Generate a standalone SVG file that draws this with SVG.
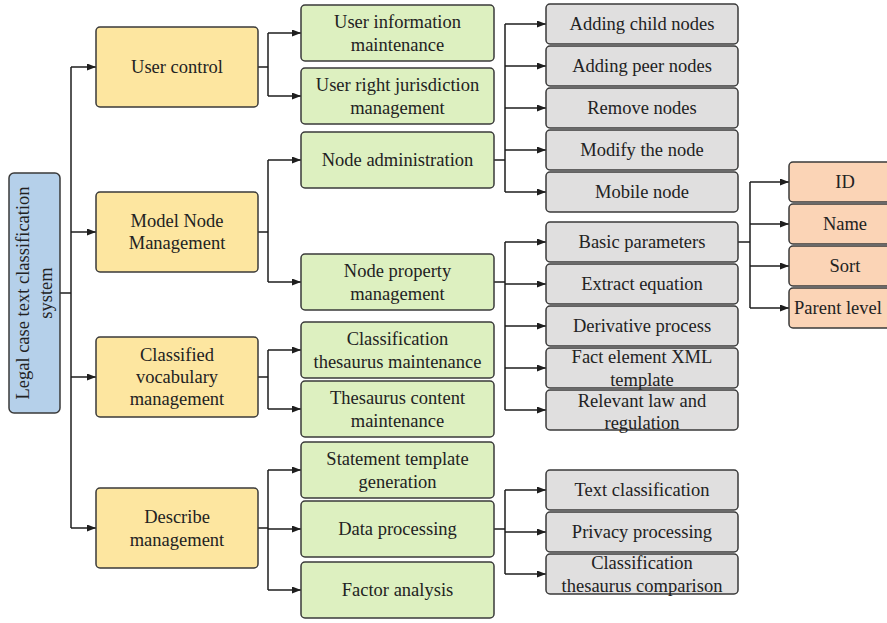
<svg xmlns="http://www.w3.org/2000/svg" width="887" height="623" viewBox="0 0 887 623">
<defs>
<marker id="arr" markerUnits="userSpaceOnUse" markerWidth="10" markerHeight="8" refX="9" refY="3.5" orient="auto">
<path d="M0,0 L9,3.5 L0,7 z" fill="#1e1e1e"/>
</marker>
<style>
.box{stroke:#3a3a3a;stroke-width:1.5}
.root{fill:#b5d0ea}
.l1{fill:#fde6a0}
.l2{fill:#ddf0c0}
.l3{fill:#e0dfdf}
.l4{fill:#fbd4b6}
text{font-family:"Liberation Serif","Times New Roman",serif;font-size:18.5px;fill:#222;text-anchor:middle;dominant-baseline:central}
.c path{fill:none;stroke:#1e1e1e;stroke-width:1.5}
.c path.a{marker-end:url(#arr)}
</style>
</defs>
<rect width="887" height="623" fill="#ffffff"/>

<g class="c" id="connectors">
<path d="M60,293 H71"/>
<path d="M71,67 V528"/>
<path class="a" d="M71,67 H96"/>
<path class="a" d="M71,232 H96"/>
<path class="a" d="M71,377 H96"/>
<path class="a" d="M71,528 H96"/>

<path d="M258,67 H268 M268,33 V96"/>
<path class="a" d="M268,33 H301"/>
<path class="a" d="M268,96 H301"/>
<path d="M258,232 H268 M268,160 V282"/>
<path class="a" d="M268,160 H301"/>
<path class="a" d="M268,282 H301"/>
<path d="M258,377 H268 M268,350 V409"/>
<path class="a" d="M268,350 H301"/>
<path class="a" d="M268,409 H301"/>
<path d="M258,528 H268 M268,470 V590"/>
<path class="a" d="M268,470 H301"/>
<path class="a" d="M268,529 H301"/>
<path class="a" d="M268,590 H301"/>

<path d="M494,160 H505 M505,24 V192"/>
<path class="a" d="M505,24 H546"/>
<path class="a" d="M505,66 H546"/>
<path class="a" d="M505,108 H546"/>
<path class="a" d="M505,150 H546"/>
<path class="a" d="M505,192 H546"/>

<path d="M494,282 H505 M505,242 V410"/>
<path class="a" d="M505,242 H546"/>
<path class="a" d="M505,284 H546"/>
<path class="a" d="M505,326 H546"/>
<path class="a" d="M505,368 H546"/>
<path class="a" d="M505,410 H546"/>

<path d="M494,529 H505 M505,490 V574"/>
<path class="a" d="M505,490 H546"/>
<path class="a" d="M505,532 H546"/>
<path class="a" d="M505,574 H546"/>

<path d="M738,242 H750 M750,182 V308"/>
<path class="a" d="M750,182 H789"/>
<path class="a" d="M750,224 H789"/>
<path class="a" d="M750,266 H789"/>
<path class="a" d="M750,308 H789"/>
</g>

<g id="root">
<rect class="box root" x="9" y="173" width="51" height="240" rx="5"/>
<g transform="translate(34.5,293) rotate(-90)">
<text x="0" y="-11.5">Legal case text classification</text>
<text x="0" y="11.5">system</text>
</g>
</g>

<g id="user-control">
<rect class="box l1" x="96" y="27" width="162" height="80" rx="4"/>
<text x="177" y="67">User control</text>
</g>
<g id="model-node-management">
<rect class="box l1" x="96" y="192" width="162" height="80" rx="4"/>
<text x="177" y="221">Model Node</text>
<text x="177" y="243">Management</text>
</g>
<g id="classified-vocabulary-management">
<rect class="box l1" x="96" y="337" width="162" height="80" rx="4"/>
<text x="177" y="355">Classified</text>
<text x="177" y="377">vocabulary</text>
<text x="177" y="399">management</text>
</g>
<g id="describe-management">
<rect class="box l1" x="96" y="488" width="162" height="80" rx="4"/>
<text x="177" y="517">Describe</text>
<text x="177" y="540">management</text>
</g>

<g id="user-information-maintenance">
<rect class="box l2" x="301" y="5" width="193" height="56" rx="4"/>
<text x="397.5" y="21.5">User information</text>
<text x="397.5" y="44.5">maintenance</text>
</g>
<g id="user-right-jurisdiction-management">
<rect class="box l2" x="301" y="68" width="193" height="56" rx="4"/>
<text x="397.5" y="84.5">User right jurisdiction</text>
<text x="397.5" y="107.5">management</text>
</g>
<g id="node-administration">
<rect class="box l2" x="301" y="132" width="193" height="56" rx="4"/>
<text x="397.5" y="160">Node administration</text>
</g>
<g id="node-property-management">
<rect class="box l2" x="301" y="254" width="193" height="56" rx="4"/>
<text x="397.5" y="270.5">Node property</text>
<text x="397.5" y="293.5">management</text>
</g>
<g id="classification-thesaurus-maintenance">
<rect class="box l2" x="301" y="322" width="193" height="56" rx="4"/>
<text x="397.5" y="338.5">Classification</text>
<text x="397.5" y="361.5">thesaurus maintenance</text>
</g>
<g id="thesaurus-content-maintenance">
<rect class="box l2" x="301" y="381" width="193" height="56" rx="4"/>
<text x="397.5" y="397.5">Thesaurus content</text>
<text x="397.5" y="420.5">maintenance</text>
</g>
<g id="statement-template-generation">
<rect class="box l2" x="301" y="442" width="193" height="56" rx="4"/>
<text x="397.5" y="458.5">Statement template</text>
<text x="397.5" y="481.5">generation</text>
</g>
<g id="data-processing">
<rect class="box l2" x="301" y="501" width="193" height="56" rx="4"/>
<text x="397.5" y="529">Data processing</text>
</g>
<g id="factor-analysis">
<rect class="box l2" x="301" y="562" width="193" height="56" rx="4"/>
<text x="397.5" y="590">Factor analysis</text>
</g>

<g id="adding-child-nodes">
<rect class="box l3" x="546" y="4" width="192" height="40" rx="4"/>
<text x="642" y="24">Adding child nodes</text>
</g>
<g id="adding-peer-nodes">
<rect class="box l3" x="546" y="46" width="192" height="40" rx="4"/>
<text x="642" y="66">Adding peer nodes</text>
</g>
<g id="remove-nodes">
<rect class="box l3" x="546" y="88" width="192" height="40" rx="4"/>
<text x="642" y="108">Remove nodes</text>
</g>
<g id="modify-the-node">
<rect class="box l3" x="546" y="130" width="192" height="40" rx="4"/>
<text x="642" y="150">Modify the node</text>
</g>
<g id="mobile-node">
<rect class="box l3" x="546" y="172" width="192" height="40" rx="4"/>
<text x="642" y="192">Mobile node</text>
</g>

<g id="basic-parameters">
<rect class="box l3" x="546" y="222" width="192" height="40" rx="4"/>
<text x="642" y="242">Basic parameters</text>
</g>
<g id="extract-equation">
<rect class="box l3" x="546" y="264" width="192" height="40" rx="4"/>
<text x="642" y="284">Extract equation</text>
</g>
<g id="derivative-process">
<rect class="box l3" x="546" y="306" width="192" height="40" rx="4"/>
<text x="642" y="326">Derivative process</text>
</g>
<g id="fact-element-xml-template">
<rect class="box l3" x="546" y="348" width="192" height="40" rx="4"/>
<text x="642" y="357">Fact element XML</text>
<text x="642" y="380">template</text>
</g>
<g id="relevant-law-and-regulation">
<rect class="box l3" x="546" y="390" width="192" height="40" rx="4"/>
<text x="642" y="400.5">Relevant law and</text>
<text x="642" y="422.5">regulation</text>
</g>

<g id="text-classification">
<rect class="box l3" x="546" y="470" width="192" height="40" rx="4"/>
<text x="642" y="490">Text classification</text>
</g>
<g id="privacy-processing">
<rect class="box l3" x="546" y="512" width="192" height="40" rx="4"/>
<text x="642" y="532">Privacy processing</text>
</g>
<g id="classification-thesaurus-comparison">
<rect class="box l3" x="546" y="554" width="192" height="40" rx="4"/>
<text x="642" y="563">Classification</text>
<text x="642" y="586">thesaurus comparison</text>
</g>

<g id="id">
<rect class="box l4" x="789" y="162" width="115" height="40" rx="4"/>
<text x="845" y="182">ID</text>
</g>
<g id="name">
<rect class="box l4" x="789" y="204" width="115" height="40" rx="4"/>
<text x="845" y="224">Name</text>
</g>
<g id="sort">
<rect class="box l4" x="789" y="246" width="115" height="40" rx="4"/>
<text x="845" y="266">Sort</text>
</g>
<g id="parent-level">
<rect class="box l4" x="789" y="288" width="115" height="40" rx="4"/>
<text x="838" y="308">Parent level</text>
</g>
</svg>
